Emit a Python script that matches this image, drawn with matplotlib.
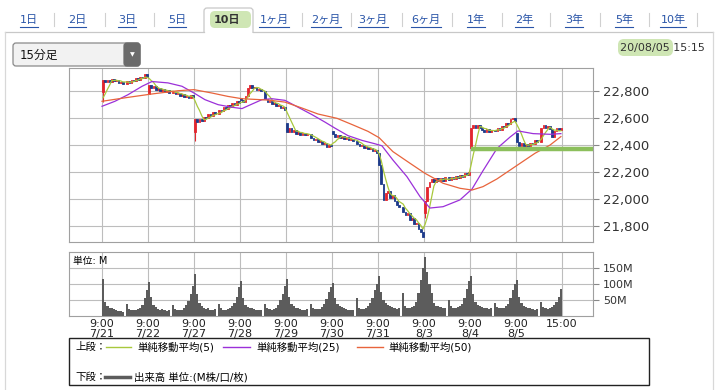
import numpy as np
import pandas as pd
import matplotlib
matplotlib.use('Agg')
import matplotlib.pyplot as plt
from matplotlib.patches import FancyBboxPatch, Rectangle

plt.rcParams['font.family'] = ['DejaVu Sans', 'Noto Sans CJK JP']

W, H = 723, 390

# --- data (15分足, 10日) ---
days = ['7/21', '7/22', '7/27', '7/28', '7/29', '7/30', '7/31', '8/3', '8/4', '8/5']
day_open = [22790, 22775, 22500, 22745, 22565, 22505, 22345, 21900, 22380, 22490]
first_bar_low = [22720, None, 22430, None, None, None, None, 21860, None, None]

closes = [
    [22880, 22865, 22885, 22870, 22892, 22875, 22880, 22858, 22870, 22852,
     22872, 22860, 22885, 22875, 22898, 22885, 22905, 22895, 22922, 22900],
    [22845, 22820, 22835, 22808, 22822, 22798, 22815, 22792, 22805, 22785,
     22795, 22775, 22788, 22765, 22775, 22752, 22765, 22748, 22772, 22755],
    [22590, 22572, 22595, 22580, 22605, 22598, 22628, 22615, 22645, 22632,
     22662, 22650, 22680, 22668, 22695, 22682, 22712, 22698, 22725, 22712],
    [22735, 22722, 22765, 22825, 22848, 22822, 22830, 22805, 22815, 22798,
     22740, 22718, 22728, 22705, 22712, 22690, 22698, 22672, 22680, 22658],
    [22500, 22525, 22498, 22510, 22485, 22498, 22478, 22492, 22475, 22482,
     22452, 22435, 22448, 22425, 22432, 22405, 22412, 22385, 22402, 22395],
    [22480, 22462, 22475, 22450, 22465, 22442, 22458, 22438, 22448, 22428,
     22408, 22392, 22400, 22380, 22388, 22368, 22378, 22355, 22362, 22342],
    [22250, 22110, 21995, 22045, 22058, 22010, 22030, 21985, 21960, 21940,
     21905, 21880, 21895, 21850, 21860, 21815, 21825, 21780, 21760, 21718],
    [21990, 22090, 22125, 22150, 22128, 22155, 22135, 22160, 22138, 22162,
     22140, 22168, 22148, 22175, 22155, 22182, 22165, 22195, 22180, 22200],
    [22530, 22548, 22530, 22552, 22525, 22512, 22498, 22518, 22500, 22515,
     22505, 22528, 22515, 22545, 22535, 22562, 22555, 22590, 22600, 22578],
    [22420, 22395, 22412, 22388, 22405, 22395, 22418, 22408, 22435, 22425,
     22530, 22548, 22530, 22540, 22518, 22460, 22505, 22528, 22515, 22525],
]
prev_closes = [22715, 22718, 22720, 22717]  # 7/20 引け前 (MA5の起点)

volumes = [
    [115, 45, 30, 26, 24, 22, 20, 17, 15, 13, 38, 22, 19, 18, 20, 22, 26, 35, 55, 80],
    [107, 60, 35, 27, 23, 20, 22, 18, 17, 19, 35, 22, 18, 18, 20, 25, 35, 48, 68, 95],
    [131, 70, 40, 30, 25, 22, 24, 20, 18, 22, 38, 24, 20, 19, 21, 24, 30, 42, 60, 90],
    [110, 55, 35, 28, 25, 24, 22, 20, 18, 20, 36, 25, 21, 20, 22, 26, 34, 50, 70, 95],
    [115, 60, 38, 30, 26, 24, 22, 20, 19, 21, 38, 26, 22, 21, 23, 27, 36, 52, 75, 90],
    [103, 55, 36, 30, 27, 24, 22, 20, 19, 20, 56, 25, 22, 21, 24, 30, 40, 55, 80, 100],
    [125, 75, 50, 40, 35, 30, 28, 25, 22, 24, 72, 30, 26, 25, 28, 32, 45, 72, 112, 150],
    [185, 136, 100, 72, 40, 32, 30, 27, 25, 26, 50, 30, 26, 25, 27, 30, 38, 55, 85, 110],
    [125, 70, 45, 35, 30, 28, 26, 24, 22, 24, 40, 28, 25, 24, 26, 30, 38, 55, 80, 100],
    [112, 60, 40, 32, 28, 25, 24, 22, 20, 22, 45, 28, 24, 23, 25, 28, 35, 45, 60, 83],
]

ma25_bar = [0, 5.9, 11.9, 18.3, 22.8, 30.1, 36.5, 42, 47, 53, 59.3, 63.9, 66.6, 73, 77.6,
            83.5, 89.5, 95.9, 101.8, 106.4, 112.3, 118.7, 124.6, 127.8, 132.8, 139.2,
            145.2, 149.7, 155.7, 163.4, 168.9, 173.9, 180.3, 186.3, 189.9, 196.8, 204.5, 209.5]
ma25_val = [22687, 22724, 22773, 22835, 22870, 22860, 22835, 22785, 22736, 22699, 22680,
            22670, 22690, 22736, 22743, 22731, 22680, 22625, 22570, 22525, 22470, 22435,
            22410, 22395, 22290, 22167, 22019, 21935, 21945, 21995, 22075, 22210, 22375,
            22460, 22505, 22485, 22480, 22485]
ma50_bar = [0, 11.9, 22.8, 34.7, 42, 50.2, 57.5, 63.9, 75.8, 83.5, 91.3, 98.6, 107.3,
            114.6, 121.4, 126.5, 132.8, 140.6, 147.4, 155.7, 163.4, 168.9, 173.9, 180.3,
            189.9, 197.7, 204.5, 209.5]
ma50_val = [22724, 22753, 22778, 22802, 22810, 22785, 22760, 22743, 22733, 22718, 22674,
            22630, 22598, 22549, 22502, 22455, 22352, 22266, 22192, 22118, 22081, 22068,
            22093, 22150, 22255, 22340, 22400, 22463]

support_level = 22370
price_ticks = [21800, 22000, 22200, 22400, 22600, 22800]
vol_ticks = [50, 100, 150]

tab_labels = ['1日', '2日', '3日', '5日', '10日', '1ヶ月', '2ヶ月', '3ヶ月', '6ヶ月',
              '1年', '2年', '3年', '5年', '10年']

# --- bar positions: 10 morning + gap + 10 afternoon per day ---
slots = list(range(10)) + list(range(11, 21))
x = np.array([d * 21 + s + 0.5 for d in range(len(days)) for s in slots])
c = np.array(sum(closes, []), dtype=float)
o = np.array(sum([[day_open[d]] + closes[d][:-1] for d in range(len(days))], []), dtype=float)
v = np.array(sum(volumes, []), dtype=float)
ma5 = pd.Series(prev_closes + list(c)).rolling(5).mean().iloc[4:].values

grid_x = [d * 21 for d in range(len(days) + 1)]
xlabels = ['9:00\n' + d for d in days] + ['15:00']
xlim = (-15.07, 224.15)

fig = plt.figure(figsize=(W / 100, H / 100), dpi=100)

bg = fig.add_axes([0, 0, 1, 1])
bg.set_xlim(0, W)
bg.set_ylim(H, 0)
bg.axis('off')


def frac(left, top, right, bottom):
    return [left / W, 1 - bottom / H, (right - left) / W, (bottom - top) / H]


# --- price panel ---
ax = fig.add_axes(frac(69, 68, 593, 242))
up = c >= o
red, blue = '#e3262f', '#1d3a8a'
ax.bar(x[up], c[up] - o[up], bottom=o[up], width=0.8, color=red, edgecolor=red, lw=0.6, zorder=3)
ax.bar(x[~up], c[~up] - o[~up], bottom=o[~up], width=0.8, color=blue, edgecolor=blue, lw=0.6, zorder=3)
for d, low in enumerate(first_bar_low):
    if low is not None:
        i = d * 20
        ax.vlines(x[i], low, max(o[i], c[i]), color=red if up[i] else blue, lw=0.8, zorder=3)

ax.plot(x, ma5, color='#a8c83c', lw=0.9, zorder=4)
ax.plot(ma25_bar, ma25_val, color='#9b30d9', lw=0.9, zorder=4)
ax.plot(ma50_bar, ma50_val, color='#e8643c', lw=0.9, zorder=4)
ax.hlines(support_level, 168.5, xlim[1], color='#8cbf5c', lw=3.2, zorder=5)

ax.set_xlim(*xlim)
ax.set_ylim(21684, 22970)
ax.set_xticks(grid_x)
ax.set_yticks(price_ticks)
ax.set_yticklabels([f'{p:,}' for p in price_ticks])
ax.yaxis.tick_right()
ax.tick_params(axis='x', length=0, labelbottom=False)
ax.tick_params(axis='y', length=4, width=0.8, color='#888888', pad=3, labelsize=9.5, labelcolor='#333333')
ax.grid(True, color='#bdbdbd', lw=0.8)
ax.set_axisbelow(True)
for sp in ax.spines.values():
    sp.set_color('#a0a0a0')

# --- volume panel ---
axv = fig.add_axes(frac(69, 252, 593, 316))
axv.bar(x, v, width=1.0, color='#5c5c5c', lw=0, zorder=3)
axv.set_xlim(*xlim)
axv.set_ylim(0, 200)
axv.set_xticks(grid_x)
axv.set_xticklabels(xlabels, fontsize=8, linespacing=1.05, color='#222222')
axv.set_yticks(vol_ticks)
axv.set_yticklabels([f'{t}M' for t in vol_ticks])
axv.yaxis.tick_right()
axv.tick_params(axis='x', length=0, pad=2)
axv.tick_params(axis='y', length=4, width=0.8, color='#888888', pad=3, labelsize=8, labelcolor='#333333')
axv.grid(True, color='#bdbdbd', lw=0.8)
axv.set_axisbelow(True)
for sp in axv.spines.values():
    sp.set_color('#a0a0a0')
axv.text(0.008, 0.93, '単位: M', transform=axv.transAxes, va='top', ha='left', fontsize=7, zorder=5)

# --- page frame and tabs ---
bg.plot([5, 204], [32, 32], color='#c8c8c8', lw=0.9)
bg.plot([253, 713], [32, 32], color='#c8c8c8', lw=0.9)
bg.plot([5, 5], [32, H], color='#d8d8d8', lw=0.9)
bg.plot([713, 713], [32, H], color='#d8d8d8', lw=0.9)
bg.add_patch(FancyBboxPatch((204, 8), 49, 30, boxstyle='round,pad=0,rounding_size=3',
                            fc='white', ec='#c8c8c8', lw=0.9))
bg.add_patch(Rectangle((203, 32.6), 51, 8, fc='white', ec='none'))
bg.add_patch(FancyBboxPatch((210, 11), 41, 17, boxstyle='round,pad=0,rounding_size=5',
                            fc='#cfe6b4', ec='none'))

tab_cx = [29, 77, 127, 177, 227, 274, 326, 373, 426, 476, 524, 574, 624, 673]
sep_x = [54, 105, 154, 302, 351, 402, 452, 502, 550, 600, 649, 697]
for sx in sep_x:
    bg.plot([sx, sx], [13, 26], color='#d0d0d0', lw=0.8)
tab_texts = []
for lab, cx in zip(tab_labels, tab_cx):
    if lab == '10日':
        bg.text(cx, 19.5, lab, ha='center', va='center', fontsize=8, fontweight='bold', color='#333333')
    else:
        tab_texts.append(bg.text(cx, 19.5, lab, ha='center', va='center', fontsize=8, color='#2a55a8'))
fig.canvas.draw()
inv = bg.transData.inverted()
for t in tab_texts:
    bb = t.get_window_extent()
    (x0, _), (x1, _) = inv.transform([(bb.x0, 0), (bb.x1, 0)])
    bg.plot([x0, x1], [26.5, 26.5], color='#2a55a8', lw=0.8)

# dropdown
bg.add_patch(FancyBboxPatch((13, 43), 127, 23, boxstyle='round,pad=0,rounding_size=3',
                            fc='#f2f2f2', ec='#8a8a8a', lw=0.9))
bg.add_patch(FancyBboxPatch((124, 43), 16, 23, boxstyle='round,pad=0,rounding_size=3',
                            fc='#6b6b6b', ec='#6b6b6b', lw=0.9))
bg.text(132, 54.5, '▼', ha='center', va='center', fontsize=4.5, color='white')
bg.text(20, 55, '15分足', ha='left', va='center', fontsize=8.5, color='#111111')

# timestamp
bg.add_patch(FancyBboxPatch((618, 39), 55, 17, boxstyle='round,pad=0,rounding_size=6',
                            fc='#cfe6b4', ec='none'))
bg.text(705, 47.5, '20/08/05 15:15', ha='right', va='center', fontsize=8, color='#333333')

# legend box
bg.add_patch(Rectangle((69, 338), 580, 47, fill=False, ec='#222222', lw=1))
bg.text(75, 347, '上段：', ha='left', va='center', fontsize=7.5)
bg.plot([106, 131], [347, 347], color='#a8c83c', lw=1)
bg.text(137, 347, '単純移動平均(5)', ha='left', va='center', fontsize=7.5)
bg.plot([223, 250], [347, 347], color='#9b30d9', lw=1)
bg.text(256, 347, '単純移動平均(25)', ha='left', va='center', fontsize=7.5)
bg.plot([357, 383], [347, 347], color='#e8643c', lw=1)
bg.text(388, 347, '単純移動平均(50)', ha='left', va='center', fontsize=7.5)
bg.text(75, 377, '下段：', ha='left', va='center', fontsize=7.5)
bg.plot([105, 130], [377, 377], color='#5c5c5c', lw=2.5)
bg.text(134, 377, '出来高 単位:(M株/口/枚)', ha='left', va='center', fontsize=7.5)

fig.savefig('out.png', dpi=100)
